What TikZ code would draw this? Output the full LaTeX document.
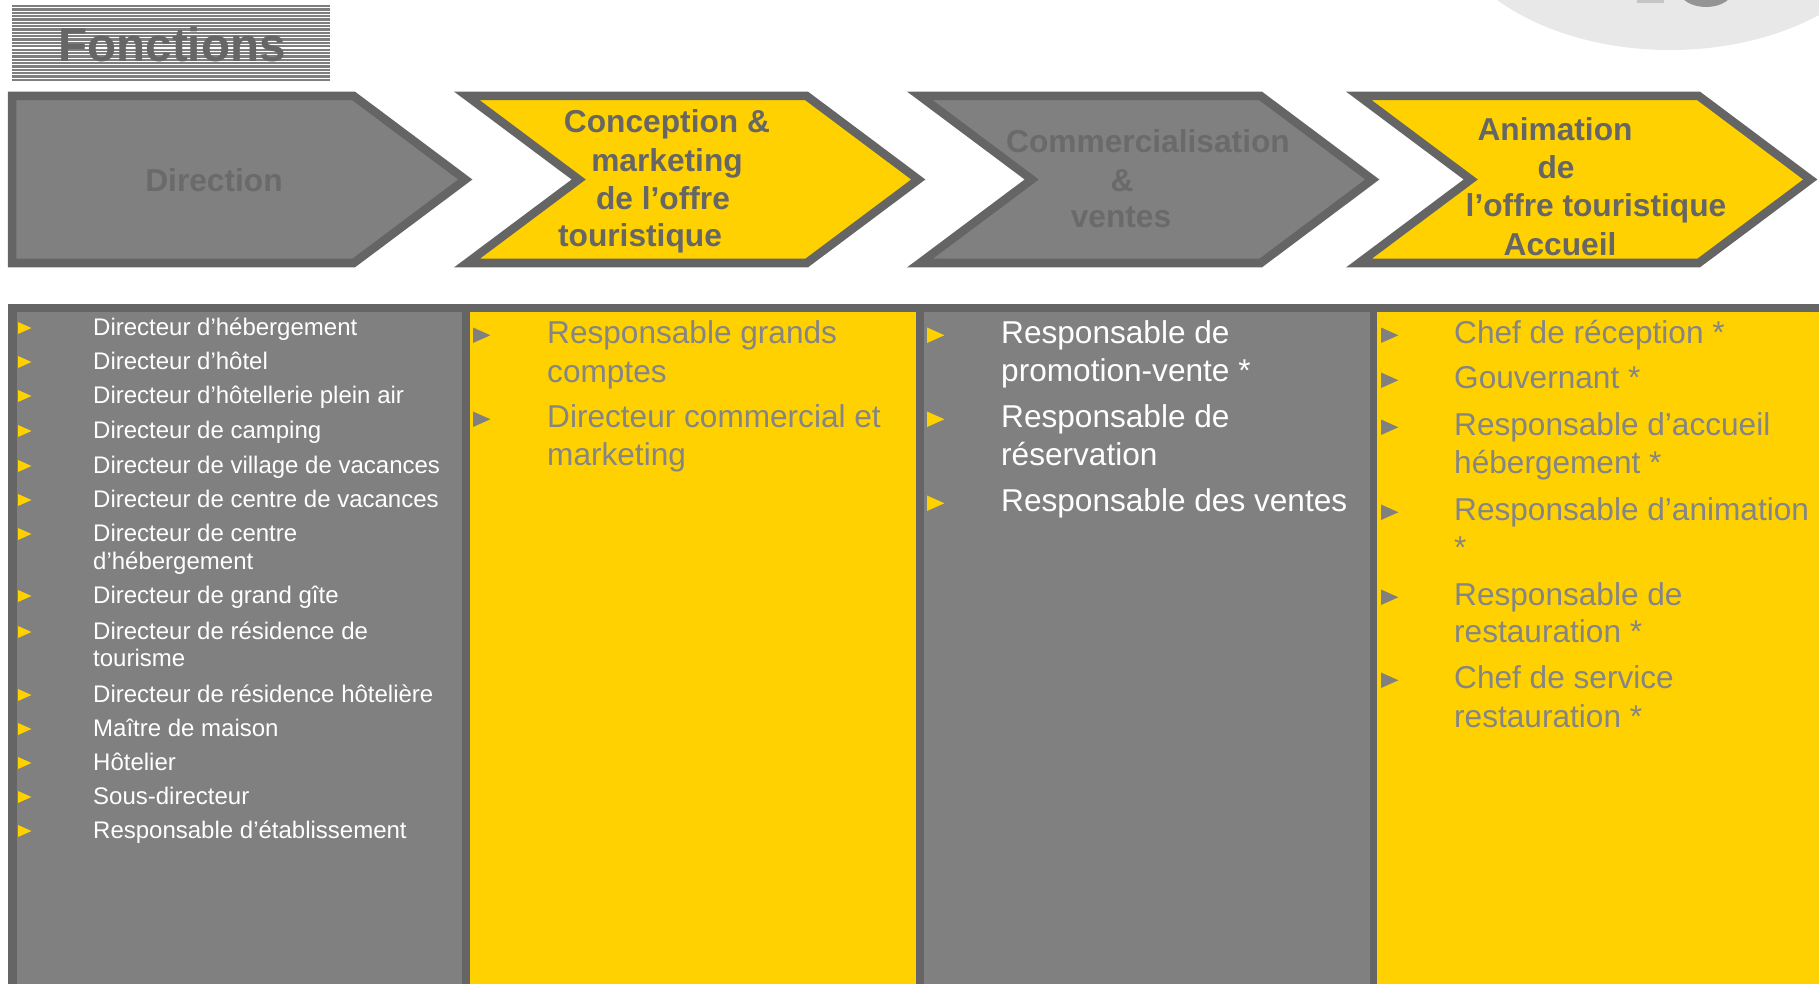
\documentclass[tikz,border=0pt]{standalone}
\usepackage{fontspec}
\setmainfont{Liberation Sans}
\definecolor{gborder}{HTML}{656565}
\definecolor{gfill}{HTML}{808080}
\definecolor{yel}{HTML}{FFD100}
\definecolor{ttl}{HTML}{666666}
\definecolor{ttlg}{HTML}{6A6A6A}
\definecolor{ytxt}{HTML}{858585}
\definecolor{stripe}{HTML}{7E7E7E}
\definecolor{logobg}{HTML}{E8E8E8}
\tikzset{
  chev/.style={draw=gborder, line width=8.5, line join=miter},
  ttitle/.style={anchor=base, inner sep=0, font=\bfseries\fontsize{31.7}{38}\selectfont},
  lone/.style={anchor=base west, inner sep=0, text=white, font=\fontsize{24}{28}\selectfont},
  lbig/.style={anchor=base west, inner sep=0, font=\fontsize{31.6}{38}\selectfont},
}
% bullet: colour, x, bottom y, height
\newcommand{\mybul}[4]{\fill[#1] (#2,#3) -- (#2,#3-#4) -- (#2+1.12*#4,#3-0.5*#4) -- cycle;}
\begin{document}
\begin{tikzpicture}[x=1pt,y=-1pt]
\useasboundingbox (0,0) rectangle (1819,984);
\clip (0,0) rectangle (1819,984);
% logo fragments top right
\fill[logobg] (1670,-100) ellipse [x radius=232, y radius=150];
\fill[gray!45] (1637,-2) rectangle (1664,3);
\fill[gray!80!black!70] (1706,-10) ellipse [x radius=27, y radius=17];
% Fonctions title box
\foreach \i in {0,...,22} {\fill[stripe] (12,5+3.35*\i) rectangle (330,7.3+3.35*\i);}
\node[anchor=base, inner sep=0, text=ttl, font=\bfseries\fontsize{47.5}{50}\selectfont] (titre) at (172,62) {Fonctions};
% chevrons (centre-line coordinates)
\draw[chev, fill=gfill] (12,96) -- (353.7,96) -- (465.3,179.5) -- (353.7,263) -- (12,263) -- cycle;
\draw[chev, fill=yel] (467,96) -- (806.7,96) -- (918.3,179.5) -- (806.7,263) -- (467,263) -- (578.7,179.5) -- cycle;
\draw[chev, fill=gfill] (920,96) -- (1260.7,96) -- (1372.3,179.5) -- (1260.7,263) -- (920,263) -- (1031.7,179.5) -- cycle;
\draw[chev, fill=yel] (1359,96) -- (1698.7,96) -- (1810.3,179.5) -- (1698.7,263) -- (1359,263) -- (1470.7,179.5) -- cycle;
% chevron titles
\node[ttitle, text=ttlg] (dir) at (214,192) {Direction};
\node[ttitle, text=ttl] (con1) at (667,133) {Conception \&};
\node[ttitle, text=ttl] (con2) at (667,172) {marketing};
\node[ttitle, text=ttl] (con3) at (663,210) {de l’offre};
\node[ttitle, text=ttl] (con4) at (640,247) {touristique};
\node[ttitle, text=ttlg] (com1) at (1148,153) {Commercialisation};
\node[ttitle, text=ttlg] (com2) at (1122,192) {\&};
\node[ttitle, text=ttlg] (com3) at (1121,228) {ventes};
\node[ttitle, text=ttl] (ani1) at (1555,141) {Animation};
\node[ttitle, text=ttl] (ani2) at (1556,179) {de};
\node[ttitle, text=ttl] (ani3) at (1596,217) {l’offre touristique};
\node[ttitle, text=ttl] (ani4) at (1560,255) {Accueil};
% columns
\fill[gborder] (8,304) rectangle (1819,984);
\fill[gfill] (17,312) rectangle (462,984);
\fill[yel] (470,312) rectangle (916,984);
\fill[gfill] (924,312) rectangle (1370,984);
\fill[yel] (1377,312) rectangle (1819,984);
% column 1
\foreach \b in {335,369,403,438,473,507,541,603,639,702,736,770,804,838} {\mybul{yel}{18}{\b-1}{12}}
\node[lone] (a1) at (93,335) {Directeur d’hébergement};
\node[lone] (a2) at (93,369) {Directeur d’hôtel};
\node[lone] (a3) at (93,403) {Directeur d’hôtellerie plein air};
\node[lone] (a4) at (93,438) {Directeur de camping};
\node[lone] (a5) at (93,473) {Directeur de village de vacances};
\node[lone] (a6) at (93,507) {Directeur de centre de vacances};
\node[lone] (a7) at (93,541) {Directeur de centre};
\node[lone] (a7b) at (93,569) {d’hébergement};
\node[lone] (a8) at (93,603) {Directeur de grand gîte};
\node[lone] (a9) at (93,639) {Directeur de résidence de};
\node[lone] (a9b) at (93,666) {tourisme};
\node[lone] (a10) at (93,702) {Directeur de résidence hôtelière};
\node[lone] (a11) at (93,736) {Maître de maison};
\node[lone] (a12) at (93,770) {Hôtelier};
\node[lone] (a13) at (93,804) {Sous-directeur};
\node[lone] (a14) at (93,838) {Responsable d’établissement};
% column 2
\foreach \b in {343,427} {\mybul{gfill}{473}{\b}{15.5}}
\node[lbig, text=ytxt] (b1) at (547,343) {Responsable grands};
\node[lbig, text=ytxt] (b1b) at (547,382) {comptes};
\node[lbig, text=ytxt] (b2) at (547,427) {Directeur commercial et};
\node[lbig, text=ytxt] (b2b) at (547,465) {marketing};
% column 3
\foreach \b in {343,427,511} {\mybul{yel}{927}{\b}{15.5}}
\node[lbig, text=white] (c1) at (1001,343) {Responsable de};
\node[lbig, text=white] (c1b) at (1001,381) {promotion-vente *};
\node[lbig, text=white] (c2) at (1001,427) {Responsable de};
\node[lbig, text=white] (c2b) at (1001,465) {réservation};
\node[lbig, text=white] (c3) at (1001,511) {Responsable des ventes};
% column 4
\foreach \b in {343,388,435,520,605,688} {\mybul{gfill}{1381}{\b}{15.5}}
\node[lbig, text=ytxt] (d1) at (1454,343) {Chef de réception *};
\node[lbig, text=ytxt] (d2) at (1454,388) {Gouvernant *};
\node[lbig, text=ytxt] (d3) at (1454,435) {Responsable d’accueil};
\node[lbig, text=ytxt] (d3b) at (1454,473) {hébergement *};
\node[lbig, text=ytxt] (d4) at (1454,520) {Responsable d’animation};
\node[lbig, text=ytxt] (d4b) at (1454,558) {*};
\node[lbig, text=ytxt] (d5) at (1454,605) {Responsable de};
\node[lbig, text=ytxt] (d5b) at (1454,642) {restauration *};
\node[lbig, text=ytxt] (d6) at (1454,688) {Chef de service};
\node[lbig, text=ytxt] (d6b) at (1454,727) {restauration *};
\end{tikzpicture}
\end{document}
